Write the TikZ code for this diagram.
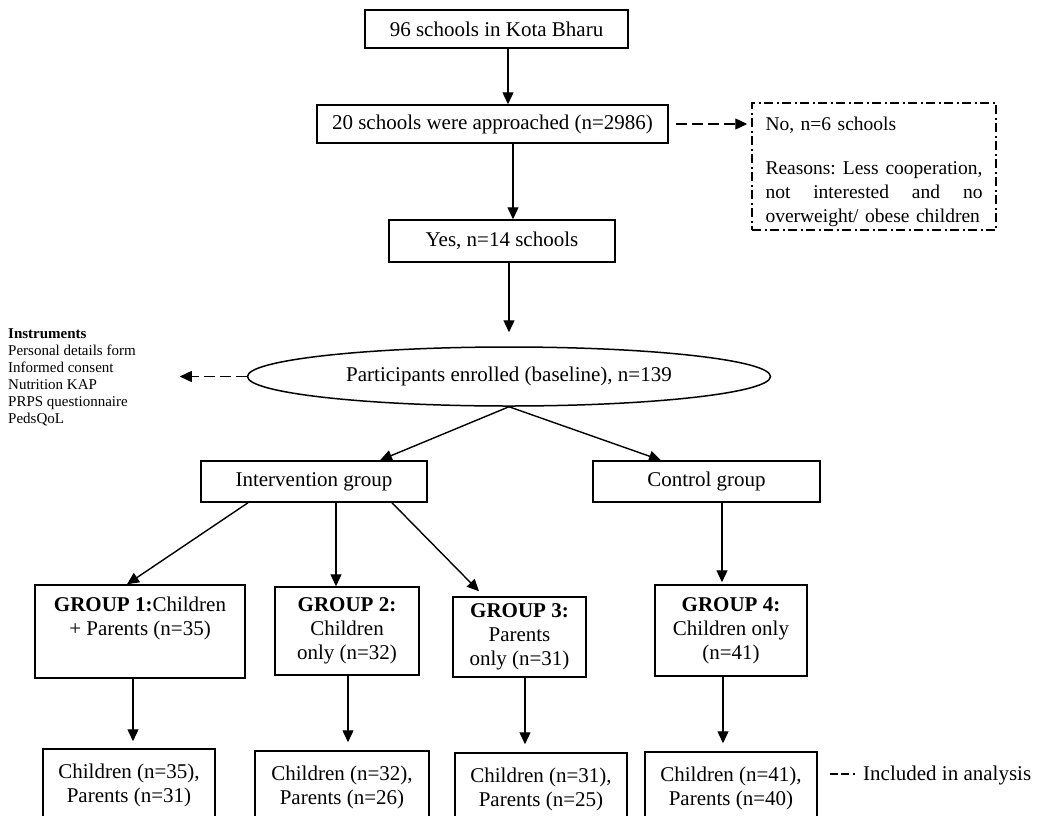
\documentclass[tikz,border=0pt]{standalone}
\usepackage{fontspec}
\setmainfont{Liberation Serif}
\usetikzlibrary{arrows.meta,shapes.geometric}
\tikzset{
  txt/.style={font=\fontsize{21}{24}\selectfont},
  box/.style={draw, line width=1.5pt, inner sep=0pt, align=center, txt},
  arr/.style={line width=1.4pt, -{Triangle[length=12pt,width=11pt]}},
  darr/.style={arr, dash pattern=on 11pt off 5pt},
  dashdotbox/.style={draw, line width=1.5pt, dash pattern=on 9pt off 3.5pt on 2pt off 3.5pt},
}
\begin{document}
\begin{tikzpicture}[x=1pt,y=-1pt]
\clip (0,0) rectangle (1045,815);
\fill[white] (0,0) rectangle (1045,815);

% top chain
\node[box, minimum width=263pt, minimum height=38pt] (t1) at (496.5,29) {96 schools in Kota Bharu};
\node[box, minimum width=351pt, minimum height=38pt] (t2) at (492.5,124) {20 schools were approached (n=2986)};
\node[box, minimum width=226pt, minimum height=42pt] (yes) at (502,241) {Yes, n=14 schools};
\node[dashdotbox, minimum width=244pt, minimum height=127pt, text width=217pt, inner xsep=13.5pt, inner ysep=0pt, align=left, font=\fontsize{19.5}{24}\selectfont] (no) at (874,166.5)
 {\rule{0pt}{24pt}No, n=6 schools\\[20pt]
  \makebox[217pt][l]{Reasons:\hfill Less\hfill cooperation,}\\
  \makebox[217pt][l]{not\hfill interested\hfill and\hfill no}\\
  \mbox{overweight/ obese children}};

\node[draw, ellipse, line width=1.5pt, minimum width=523pt, minimum height=59pt, inner sep=0pt, txt] (ell) at (509,376.5) {Participants enrolled (baseline), n=139};

\node[anchor=west, inner sep=0pt, align=left, font=\fontsize{15}{17}\selectfont] (instr) at (8,377.5)
 {\textbf{Instruments}\\Personal details form\\Informed consent\\Nutrition KAP\\PRPS questionnaire\\PedsQoL};

\node[box, minimum width=226pt, minimum height=41pt] (int) at (314,481.5) {Intervention group};
\node[box, minimum width=227pt, minimum height=41pt] (ctl) at (706.5,481.5) {Control group};

% groups
\node[box, minimum width=210pt, minimum height=93pt] (g1) at (140,631.5) {\textbf{GROUP 1:}Children\\+ Parents (n=35)\\\strut};
\node[box, minimum width=144pt, minimum height=88pt] (g2) at (347,631) {\textbf{GROUP 2:}\\Children\\only (n=32)};
\node[box, minimum width=133pt, minimum height=80pt] (g3) at (519.5,637) {\textbf{GROUP 3:}\\Parents\\only (n=31)};
\node[box, minimum width=152pt, minimum height=91pt] (g4) at (731,630.5) {\textbf{GROUP 4:}\\Children only\\(n=41)};

% results
\node[box, minimum width=172pt, minimum height=72pt] (r1) at (129,785) {Children (n=35),\\Parents (n=31)};
\node[box, minimum width=174pt, minimum height=72pt] (r2) at (342,787) {Children (n=32),\\Parents (n=26)};
\node[box, minimum width=172pt, minimum height=72pt] (r3) at (541,789) {Children (n=31),\\Parents (n=25)};
\node[box, minimum width=172pt, minimum height=72pt] (r4) at (731,788) {Children (n=41),\\Parents (n=40)};

% legend
\node[anchor=west, inner sep=0pt, txt] (leg) at (863,775) {Included in analysis};
\coordinate (la) at (830,774);
\coordinate (lb) at (861,774);
\draw[line width=1.8pt, dash pattern=on 8pt off 3pt on 8pt off 4pt on 2pt off 30pt] (la) -- (lb);

% connectors
\coordinate (a1) at ([xshift=11.5pt]t1.south);
\draw[arr] (a1) -- (a1 |- t2.north);
\coordinate (a2) at ([xshift=20.5pt]t2.south);
\draw[arr] (a2) -- (a2 |- yes.north);
\coordinate (a4) at ([xshift=7pt]t2.east);
\draw[darr, shorten >=4pt] (a4) -- (a4 -| no.west);
\coordinate (a3) at (yes.south -| ell.north);
\draw[arr, shorten >=14pt] (a3) -- (ell.north);
\coordinate (itip) at ([xshift=-67pt]ell.west);
\draw[darr] (ell.west) -- (itip);

\draw[arr] (ell.south) -- ([xshift=66pt]int.north);
\draw[arr] (ell.south) -- ([xshift=-45.5pt]ctl.north);

\draw[arr] ([xshift=-66pt]int.south) -- ([xshift=-13pt]g1.north);
\coordinate (a5) at ([xshift=22pt]int.south);
\draw[arr] (a5) -- (a5 |- g2.north);
\draw[arr] ([xshift=78pt]int.south) -- ([xshift=-40.5pt,yshift=5pt]g3.north);
\coordinate (a6) at ([xshift=15.5pt]ctl.south);
\draw[arr, shorten >=2pt] (a6) -- (a6 |- g4.north);

\coordinate (s1) at ([xshift=-7pt]g1.south);
\draw[arr, shorten >=7pt] (s1) -- (s1 |- r1.north);
\coordinate (s2) at ([xshift=1pt]g2.south);
\draw[arr, shorten >=8pt] (s2) -- (s2 |- r2.north);
\coordinate (s3) at ([xshift=5.5pt]g3.south);
\draw[arr, shorten >=8pt] (s3) -- (s3 |- r3.north);
\coordinate (s4) at ([xshift=-8pt]g4.south);
\draw[arr, shorten >=8pt] (s4) -- (s4 |- r4.north);
\end{tikzpicture}
\end{document}
